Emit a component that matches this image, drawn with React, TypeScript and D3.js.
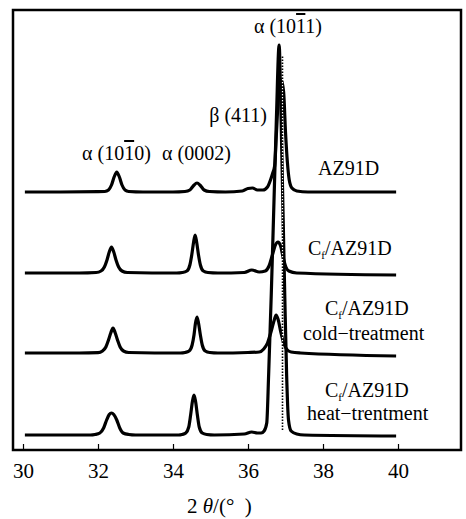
import * as d3 from "d3";
import React, { useRef, useEffect } from "react";

// 2θ ticks
const twoThetaTicks = [30, 32, 34, 36, 38, 40];

// patterns: [2θ, intensity above own baseline]
const az91dPattern = [
  [30.05, 0], [31.0, 0], [32.0, 0.3], [32.18, 0.5], [32.28, 2], [32.36, 7], [32.43, 15], [32.5, 20],
  [32.57, 15], [32.64, 7], [32.72, 2], [32.82, 0.5], [33.2, 0], [34.0, 0], [34.32, 0.5], [34.45, 2],
  [34.55, 6.5], [34.64, 9], [34.73, 6.5], [34.83, 2], [34.97, 0.5], [35.4, 0], [35.85, 1],
  [36.0, 3.5], [36.12, 4], [36.25, 2], [36.4, 2], [36.52, 5], [36.6, 12], [36.66, 19], [36.71, 26],
  [36.76, 60], [36.82, 100], [36.89, 112], [36.95, 100], [37.0, 60], [37.05, 30], [37.1, 12],
  [37.17, 4], [37.3, 1], [37.6, 0], [39.95, 0],
];
const cfPattern = [
  [30.05, 0], [31.5, 0], [31.95, 0.5], [32.08, 2], [32.17, 6], [32.24, 13], [32.3, 21], [32.36, 26],
  [32.42, 21], [32.48, 13], [32.55, 6], [32.64, 2], [32.78, 0.5], [34.1, 0], [34.25, 0.5], [34.37, 2],
  [34.45, 8], [34.5, 18], [34.55, 31], [34.59, 38], [34.63, 31], [34.68, 18], [34.73, 8],
  [34.81, 2], [34.93, 0.5], [35.2, 0], [35.9, 0.5], [36.1, 3], [36.3, 1], [36.46, 2], [36.56, 7],
  [36.65, 18], [36.73, 28], [36.8, 31], [36.87, 27], [36.94, 15], [37.01, 6], [37.09, 2],
  [37.3, 0], [39.95, -2],
];
const cfColdPattern = [
  [30.05, 0], [31.5, 0], [32.0, 0.3], [32.12, 2], [32.21, 6], [32.28, 13], [32.34, 20], [32.4, 25],
  [32.46, 20], [32.52, 13], [32.59, 6], [32.68, 2], [32.82, 0.5], [34.2, 0], [34.32, 0.5], [34.43, 2],
  [34.51, 8], [34.56, 18], [34.6, 30], [34.64, 36], [34.68, 30], [34.73, 18], [34.78, 8],
  [34.86, 2], [34.98, 0.5], [35.2, 0], [36.0, 0.5], [36.3, 1], [36.42, 4], [36.52, 10],
  [36.62, 22], [36.7, 33], [36.75, 38], [36.8, 34], [36.88, 20], [36.96, 9], [37.05, 3],
  [37.15, 1], [37.4, 0], [39.95, -3],
];
const cfHeatPattern = [
  [30.05, 0], [31.8, 0], [31.92, 0.5], [32.05, 2], [32.15, 7], [32.23, 15], [32.3, 20.5],
  [32.36, 22], [32.42, 20.5], [32.5, 15], [32.58, 7], [32.67, 2], [32.82, 0.5], [33.0, 0],
  [34.15, 0], [34.24, 0.5], [34.34, 2], [34.42, 8], [34.47, 20], [34.52, 34], [34.56, 40],
  [34.6, 34], [34.65, 20], [34.7, 8], [34.78, 2], [34.9, 0.5], [35.1, 0], [35.9, 1],
  [36.1, 3], [36.25, 2], [36.35, 2], [36.43, 4], [36.5, 12], [36.55, 60], [36.62, 140],
  [36.69, 230], [36.76, 320], [36.83, 390], [36.88, 320], [36.93, 230], [36.98, 140], [37.03, 60],
  [37.08, 15], [37.15, 4], [37.3, 1], [37.5, 0], [39.95, -1],
];
const patterns = [az91dPattern, cfPattern, cfColdPattern, cfHeatPattern];
// vertical stacking offsets (intensity units)
const seriesOffsets = [243, 162, 82, 0];

// dotted reference line at α(10-11)
const refTwoTheta = 36.92;
const refRange = [5, 380];

const W = 466;
const H = 519;
const frame = { left: 13, top: 10, right: 461, bottom: 450 };
const serif = "Liberation Serif";

function App() {
  const axisRef = useRef(null);

  const xScale = d3.scaleLinear().domain([30, 40]).range([23, 398]);
  const yScale = d3.scaleLinear().domain([0, 410]).range([435, 25]);

  const line = d3
    .line()
    .x((d) => xScale(d[0]))
    .y((d) => yScale(d[1]))
    .curve(d3.curveMonotoneX);

  useEffect(() => {
    const axis = d3
      .axisBottom(xScale)
      .tickValues(twoThetaTicks)
      .tickSizeInner(-6)
      .tickSizeOuter(0)
      .tickPadding(13);
    const g = d3.select(axisRef.current);
    g.call(axis);
    g.attr("font-family", serif).attr("font-size", 21);
    g.select(".domain").remove();
    g.selectAll(".tick line").attr("stroke", "#000").attr("stroke-width", 1.2);
    g.selectAll(".tick text").attr("fill", "#000");
  }, []); // eslint-disable-line react-hooks/exhaustive-deps

  const label = { fontFamily: serif, fontSize: 20, fill: "#000" };
  const sub = (
    <tspan fontSize={11} dy={4}>
      f
    </tspan>
  );

  return (
    <svg width={W} height={H} style={{ position: "absolute", left: 0, top: 0, background: "#fff" }}>
      <rect
        x={frame.left}
        y={frame.top}
        width={frame.right - frame.left}
        height={frame.bottom - frame.top}
        fill="none"
        stroke="#000"
        strokeWidth={2.5}
      />
      <g ref={axisRef} transform={`translate(0,${frame.bottom})`} />

      {patterns.map((p, i) => (
        <path
          key={i}
          d={line(p.map((d) => [d[0], d[1] + seriesOffsets[i]]))}
          fill="none"
          stroke="#000"
          strokeWidth={3.2}
          strokeLinejoin="round"
        />
      ))}
      <line
        x1={xScale(refTwoTheta)}
        x2={xScale(refTwoTheta)}
        y1={yScale(refRange[1])}
        y2={yScale(refRange[0])}
        stroke="#fff"
        strokeWidth={1.2}
        strokeDasharray="1.5 1.5"
      />
      <line
        x1={xScale(refTwoTheta)}
        x2={xScale(refTwoTheta)}
        y1={yScale(refRange[1])}
        y2={yScale(refRange[0])}
        stroke="#000"
        strokeWidth={1.6}
        strokeDasharray="1.5 1.5"
        strokeDashoffset={1.5}
      />

      {/* peak labels */}
      <text x={288} y={33} textAnchor="middle" {...label}>
        α (10<tspan style={{ textDecoration: "overline" }}>1</tspan>1)
      </text>
      <text x={267} y={122} textAnchor="end" {...label}>
        β (411)
      </text>
      <text x={82} y={160} {...label}>
        α (10<tspan style={{ textDecoration: "overline" }}>1</tspan>0)
      </text>
      <text x={162} y={160} {...label}>
        α (0002)
      </text>

      {/* series labels */}
      <text x={318} y={175} {...label}>
        AZ91D
      </text>
      <text x={308} y={255} {...label}>
        C{sub}
        <tspan dy={-4}>/AZ91D</tspan>
      </text>
      <text x={325} y={315} {...label}>
        C{sub}
        <tspan dy={-4}>/AZ91D</tspan>
      </text>
      <text x={303} y={340} {...label}>
        cold−treatment
      </text>
      <text x={325} y={397} {...label}>
        C{sub}
        <tspan dy={-4}>/AZ91D</tspan>
      </text>
      <text x={307} y={420} {...label}>
        heat−trentment
      </text>

      {/* x title */}
      <text x={187} y={513} {...label} fontSize={21} style={{ whiteSpace: "pre" }}>
        {"2 "}
        <tspan fontStyle="italic">θ</tspan>
        {"/(°  )"}
      </text>
    </svg>
  );
}

export default App;
